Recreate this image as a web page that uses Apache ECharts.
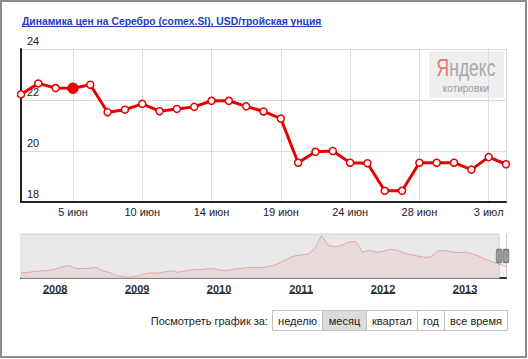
<!DOCTYPE html>
<html><head><meta charset="utf-8">
<script src="https://cdn.jsdelivr.net/npm/echarts@6/dist/echarts.min.js"></script>
<style>html,body{margin:0;padding:0;background:#fff;}#c{width:528px;height:359px;}</style>
</head><body><div id="c"></div>
<script>
// ---- data ----
const titleText = 'Динамика цен на Серебро (comex.SI), USD/тройская унция';
const days = ['31 мая','3 июн','4 июн','5 июн','6 июн','7 июн','8 июн','10 июн','11 июн','12 июн','13 июн','14 июн','15 июн','17 июн','18 июн','19 июн','20 июн','21 июн','22 июн','24 июн','25 июн','26 июн','27 июн','28 июн','29 июн','1 июл','2 июл','3 июл','4 июл'];
const prices = [22.22,22.65,22.47,22.46,22.60,21.52,21.62,21.85,21.56,21.65,21.73,21.97,21.97,21.75,21.55,21.27,19.54,19.97,20.00,19.54,19.52,18.44,18.44,19.54,19.54,19.54,19.27,19.76,19.48];
const labelDays = ['5 июн','10 июн','14 июн','19 июн','24 июн','28 июн','3 июл'];
const highlightDay = '5 июн';
const yMin = 18, yMax = 24, yStep = 2;
const navStartYear = 2007, navStartMonth = 8;
const navPrices = [12.7,13.1,14.2,14.6,15.0,16.2,18.5,19.6,17.0,16.7,17.2,17.8,14.6,13.0,10.2,9.2,8.8,9.8,11.6,12.8,12.5,13.6,14.6,13.3,14.6,15.6,15.8,16.3,16.8,15.6,14.8,16.0,16.8,17.5,17.8,17.6,18.4,19.8,22.4,25.8,28.5,29.5,30.0,35.5,47.5,38.5,37.0,38.5,41.5,42.0,32.0,33.8,32.0,32.8,34.8,34.0,31.3,30.0,28.5,27.3,27.5,33.0,33.6,32.4,31.5,32.2,30.4,28.5,25.5,23.0,21.0,19.0];
const navSelectedFrom = '2013-06';
const periodLabel = 'Посмотреть график за:';
const periodButtons = ['неделю','месяц','квартал','год','все время'];
const selectedButton = 'месяц';
const watermark1 = 'Я', watermark2 = 'ндекс', watermark3 = 'котировки';

// ---- build ----
const FONT = 'Arial, "Liberation Sans", sans-serif';
const RED = '#e60000';
const navMonths = [];
for (let i = 0; i < navPrices.length; i++) {
  const m = navStartMonth - 1 + i;
  navMonths.push((navStartYear + Math.floor(m / 12)) + '-' + String(m % 12 + 1).padStart(2, '0'));
}
const isLabelIdx = (i) => labelDays.indexOf(days[i]) >= 0;

const chart = echarts.init(document.getElementById('c'), null, {renderer: 'svg'});
const option = {
  animation: false,
  backgroundColor: '#fff',
  grid: [
    {left: 21, right: 22, top: 49, bottom: 157},
    {left: 21, right: 22, top: 234, bottom: 81}
  ],
  xAxis: [
    {
      type: 'category', gridIndex: 0, data: days, boundaryGap: false,
      axisLine: {lineStyle: {color: '#222', width: 2}},
      axisTick: {show: false},
      axisLabel: {interval: (i) => isLabelIdx(i), color: '#222', fontSize: 11, fontFamily: FONT, margin: 4},
      splitLine: {show: true, interval: (i) => isLabelIdx(i), lineStyle: {color: '#dcdcdc', width: 1}}
    },
    {
      type: 'category', gridIndex: 1, data: navMonths, boundaryGap: false,
      axisLine: {lineStyle: {color: '#333', width: 2}},
      axisTick: {show: false},
      axisLabel: {interval: (i, v) => v.endsWith('-01'), formatter: (v) => v.slice(0, 4),
        color: '#333', fontSize: 11, fontWeight: 'bold', fontFamily: FONT, margin: 5},
      splitLine: {show: false}
    }
  ],
  yAxis: [
    {
      type: 'value', gridIndex: 0, min: yMin, max: yMax, interval: yStep,
      axisLine: {show: true, lineStyle: {color: '#222', width: 2}},
      axisTick: {show: false},
      axisLabel: {inside: true, margin: 6, verticalAlign: 'bottom', align: 'left', padding: [0, 0, 3, 0], color: '#222', fontSize: 11, fontFamily: FONT, showMinLabel: true, showMaxLabel: true},
      splitLine: {lineStyle: {color: '#dcdcdc', width: 1}}
    },
    {
      type: 'value', gridIndex: 0, min: yMin, max: yMax, position: 'right',
      axisLine: {show: true, lineStyle: {color: '#dcdcdc', width: 1}},
      axisTick: {show: false}, axisLabel: {show: false}, splitLine: {show: false}
    },
    {
      type: 'value', gridIndex: 1, min: 8, max: 49,
      axisLine: {show: false}, axisTick: {show: false}, axisLabel: {show: false}, splitLine: {show: false}
    },
    {
      type: 'value', gridIndex: 1, min: 8, max: 49, position: 'right',
      axisLine: {show: true, lineStyle: {color: '#cfcfcf', width: 1}},
      axisTick: {show: false}, axisLabel: {show: false}, splitLine: {show: false}
    }
  ],
  series: [
    {
      type: 'line', xAxisIndex: 1, yAxisIndex: 2, data: navPrices, symbol: 'none', z: 2,
      lineStyle: {color: '#e9a3a3', width: 1},
      areaStyle: {color: 'rgba(220,40,40,0.1)'},
      markArea: {silent: true, z: 1, itemStyle: {color: '#e8e8e8', borderColor: '#d4d4d4', borderWidth: 1},
        data: [[{xAxis: navMonths[0]}, {xAxis: navSelectedFrom}]]},
      markPoint: {silent: true, symbol: 'roundRect', symbolSize: [6, 13],
        itemStyle: {color: '#9a9a9a', borderColor: '#777', borderWidth: 1},
        label: {show: false},
        data: [{coord: [navSelectedFrom, 28.5]}, {coord: [navMonths[navMonths.length - 1], 28.5]}]}
    },
    {
      type: 'line', xAxisIndex: 0, yAxisIndex: 0, z: 5,
      data: prices.map((v, i) => days[i] === highlightDay
        ? {value: v, symbolSize: 10, itemStyle: {color: RED, borderColor: RED}} : v),
      symbol: 'circle', symbolSize: 7,
      itemStyle: {color: '#fff', borderColor: RED, borderWidth: 1.5},
      lineStyle: {color: RED, width: 3}
    }
  ]
};
chart.setOption(option);

// ---- decorations ----
const mctx = document.createElement('canvas').getContext('2d');
function tw(text, font) { mctx.font = font; return mctx.measureText(text).width; }

const g = [];
g.push({type: 'rect', shape: {x: 1, y: 1, width: 525, height: 356}, style: {fill: 'none', stroke: '#8c8c8c', lineWidth: 2}, silent: true});
// title
const titleFont = 'bold 11px ' + FONT;
const titleScale = 0.94;
const tW = tw(titleText, titleFont) * titleScale;
g.push({type: 'text', x: 22, y: 21, scaleX: titleScale, style: {text: titleText, font: titleFont, fill: '#2340b8', verticalAlign: 'middle', align: 'left'}});
g.push({type: 'line', shape: {x1: 22, y1: 26.5, x2: 22 + tW, y2: 26.5}, style: {stroke: '#2340b8', lineWidth: 1}});
// watermark
const wmFont = '"Liberation Sans Narrow", Arial, sans-serif';
g.push({type: 'rect', shape: {x: 429, y: 51, width: 75, height: 47, r: 3}, style: {fill: 'rgba(225,225,225,0.55)'}, z: 10});
g.push({type: 'text', x: 466, y: 68, scaleX: 0.76, z: 11, style: {text: '{a|' + watermark1 + '}{b|' + watermark2 + '}', align: 'center', verticalAlign: 'middle',
  rich: {a: {fill: '#e87272', color: '#e87272', fontSize: 23, fontFamily: wmFont},
         b: {fill: '#a8a8a8', color: '#a8a8a8', fontSize: 23, fontFamily: wmFont}}}});
g.push({type: 'text', x: 466, y: 88, z: 11, style: {text: watermark3, align: 'center', verticalAlign: 'middle', font: '10px ' + FONT, fill: '#999'}});
// year underlines
const yearFont = 'bold 11px ' + FONT;
navMonths.forEach((m) => {
  if (m.endsWith('-01')) {
    const px = chart.convertToPixel({xAxisIndex: 1}, m);
    const w = tw(m.slice(0, 4), yearFont);
    g.push({type: 'line', shape: {x1: px - w / 2, y1: 293.5, x2: px + w / 2, y2: 293.5}, style: {stroke: '#333', lineWidth: 1}});
  }
});
// period buttons
const btnFont = '11px ' + FONT;
const btnWidths = [50, 44, 51, 27, 63];
g.push({type: 'text', x: 268, y: 321, style: {text: periodLabel, font: btnFont, fill: '#222', align: 'right', verticalAlign: 'middle'}});
let bx = 272;
periodButtons.forEach((b, i) => {
  const w = btnWidths[i];
  g.push({type: 'rect', shape: {x: bx + 0.5, y: 310.5, width: w, height: 20}, style: {fill: b === selectedButton ? '#dcdcdc' : '#fff', stroke: '#c2c2c2', lineWidth: 1}});
  g.push({type: 'text', x: bx + 0.5 + w / 2, y: 321, style: {text: b, font: btnFont, fill: '#222', align: 'center', verticalAlign: 'middle'}});
  bx += w;
});
chart.setOption({graphic: g});
</script></body></html>
